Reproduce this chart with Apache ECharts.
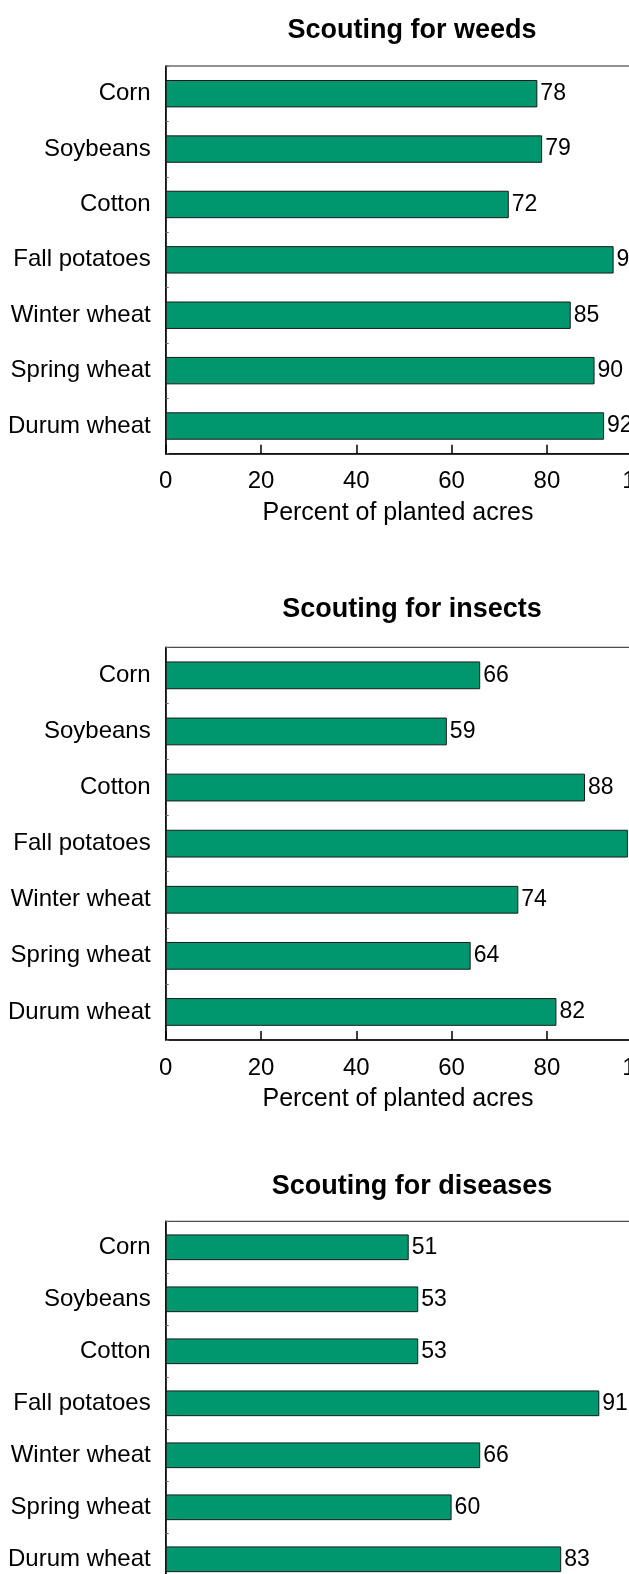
<!DOCTYPE html>
<html>
<head>
<meta charset="utf-8">
<script src="https://cdn.jsdelivr.net/npm/echarts@6/dist/echarts.min.js"></script>
<style>
html,body{margin:0;padding:0;background:#fff;overflow:hidden;}
#c{width:720px;height:1720px;}
</style>
</head>
<body>
<div id="c"></div>
<script>
const categories = ['Corn','Soybeans','Cotton','Fall potatoes','Winter wheat','Spring wheat','Durum wheat'];
const weeds = [78,79,72,94,85,90,92];
const insects = [66,59,88,97,74,64,82];
const diseases = [51,53,53,91,66,60,83];
const titles = ['Scouting for weeds','Scouting for insects','Scouting for diseases'];
const xTickValues = [0,20,40,60,80,100];
const xAxisName = 'Percent of planted acres';
const seriesData = [weeds, insects, diseases];

const FONT = '"Liberation Sans", Arial, sans-serif';
const gridBoxes = [
  {left:165.7, top:66, width:476.5, height:387.7},
  {left:165.7, top:647.3, width:476.5, height:392.7},
  {left:165.7, top:1221.3, width:476.5, height:364}
];
const titleTops = [12, 591, 1168];
const GREEN = '#00976f';

const chart = echarts.init(document.getElementById('c'), null, {renderer:'canvas'});
const option = {
  animation:false,
  backgroundColor:'#fff',
  title: titles.map((t,i)=>({
    text:t, left:407, top:titleTops[i], textAlign:'center',
    textStyle:{fontFamily:FONT, fontWeight:'bold', fontSize:27, color:'#000', lineHeight:27}
  })),
  grid: gridBoxes.map(g=>Object.assign({show:true, borderColor:'#222', borderWidth:1, backgroundColor:'transparent', containLabel:false, outerBoundsMode:'none'}, g)),
  xAxis: gridBoxes.map((g,i)=>({
    type:'value', gridIndex:i, min:xTickValues[0], max:xTickValues[xTickValues.length-1], interval:20,
    splitLine:{show:false},
    axisLine:{show:true, lineStyle:{color:'#000', width:1.5}},
    axisTick:{show:true, inside:true, length:9, lineStyle:{color:'#000', width:1.5}},
    axisLabel:{fontFamily:FONT, fontSize:24, color:'#000', margin:16},
    name:xAxisName, nameLocation:'middle', nameGap:47,
    nameTextStyle:{fontFamily:FONT, fontSize:25, color:'#000', padding:[0,12,0,0]}
  })),
  yAxis: gridBoxes.map((g,i)=>({
    type:'category', gridIndex:i, data:categories, inverse:true,
    axisLine:{show:true, lineStyle:{color:'#000', width:1.5}},
    axisTick:{show:true, inside:true, length:3, lineStyle:{color:'#666'}},
    axisLabel:{fontFamily:FONT, fontSize:24, color:'#000', margin:15}
  })),
  series: seriesData.map((d,i)=>({
    type:'bar', xAxisIndex:i, yAxisIndex:i, data:d, barWidth:'49.5%',
    itemStyle:{color:GREEN, borderColor:'#1a1a1a', borderWidth:1},
    label:{show:true, position:'right', distance:3, fontFamily:FONT, fontSize:23, color:'#000'}
  }))
};
chart.setOption(option);
</script>
</body>
</html>
